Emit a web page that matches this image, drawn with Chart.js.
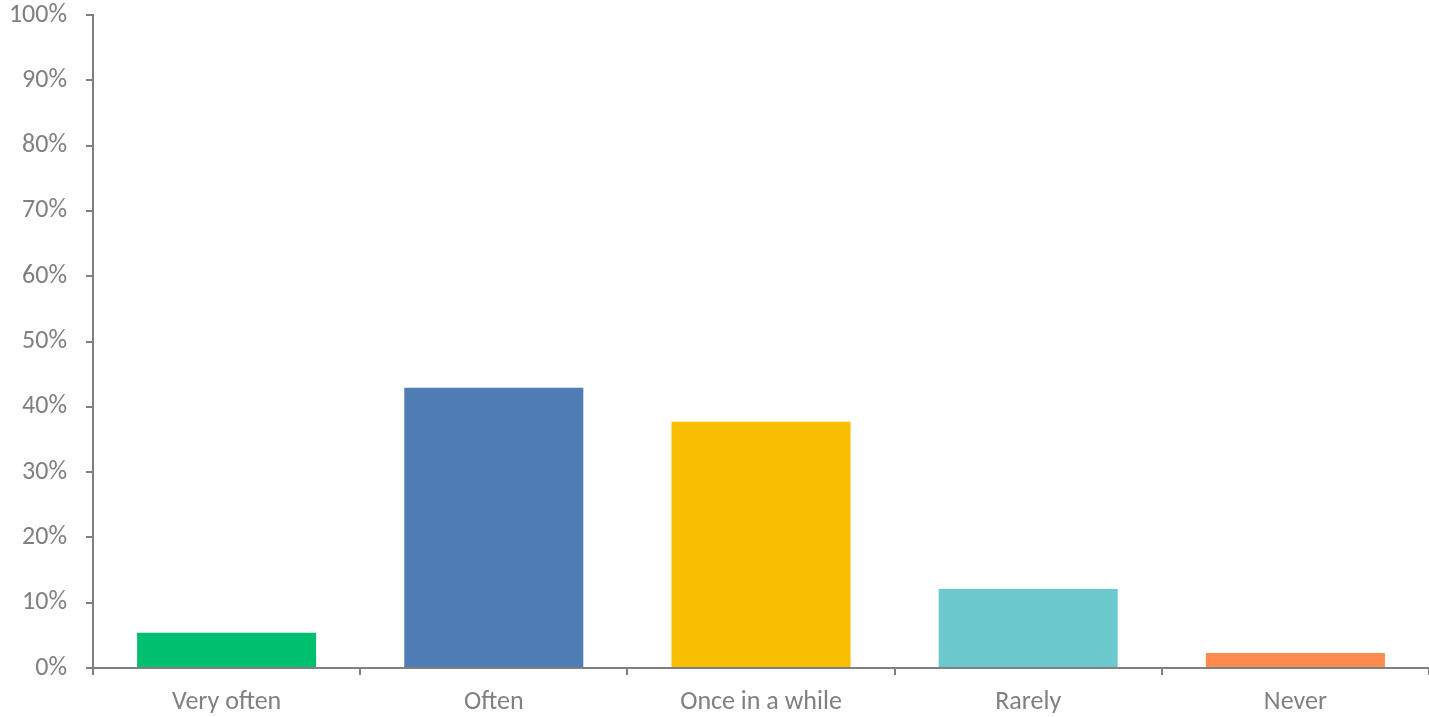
<!DOCTYPE html>
<html>
<head>
<meta charset="utf-8">
<script src="https://cdn.jsdelivr.net/npm/chart.js@4"></script>
<style>
  html, body { margin: 0; padding: 0; background: #fff; }
</style>
</head>
<body>
<canvas id="myChart" width="1429" height="717"></canvas>
<script>
const categories = ['Very often', 'Often', 'Once in a while', 'Rarely', 'Never'];
const shares = [5.4, 42.9, 37.7, 12.1, 2.3];
const barColors = ['#00bf6f', '#507cb6', '#f9be00', '#6bc8cd', '#ff8b4f'];

const grey = '#808080';
Chart.defaults.font.family = 'Carlito, "Open Sans", sans-serif';
Chart.defaults.font.size = 26;
Chart.defaults.color = grey;

const ctx = document.getElementById('myChart');

new Chart(ctx, {
  type: 'bar',
  data: {
    labels: categories,
    datasets: [{
      data: shares,
      backgroundColor: barColors,
      borderWidth: 0,
      categoryPercentage: 1,
      barPercentage: 0.67
    }]
  },
  options: {
    responsive: false,
    animation: false,
    layout: { padding: { top: 15, left: 0, right: 0, bottom: 0 } },
    plugins: {
      legend: { display: false },
      tooltip: { enabled: false }
    },
    scales: {
      x: {
        offset: true,
        afterFit: scale => { scale.height = 49; },
        grid: {
          offset: true,
          drawOnChartArea: false,
          drawTicks: true,
          tickLength: 7,
          color: grey,
          lineWidth: 2
        },
        border: { color: grey, width: 2 },
        ticks: { padding: 12, color: grey }
      },
      y: {
        min: 0,
        max: 100,
        afterFit: scale => { scale.width = 93; scale.paddingTop = 0; scale.paddingBottom = 0; },
        grid: {
          drawOnChartArea: false,
          drawTicks: true,
          tickLength: 7,
          color: grey,
          lineWidth: 2
        },
        border: { color: grey, width: 2 },
        ticks: {
          stepSize: 10,
          padding: 19,
          color: grey,
          callback: v => v + '%'
        }
      }
    }
  }
});
</script>
</body>
</html>
